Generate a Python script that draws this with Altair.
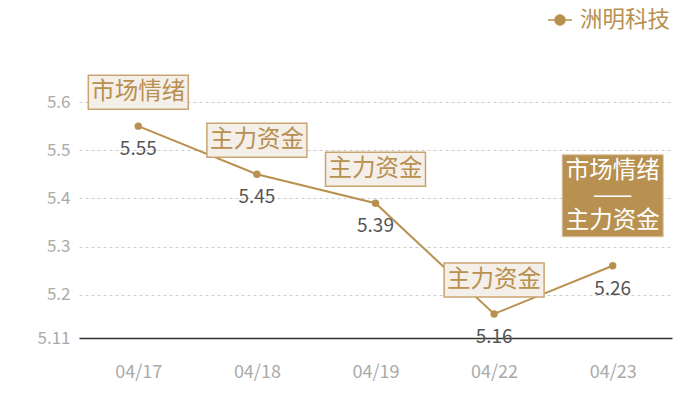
import altair as alt
import pandas as pd

dates = ["04/17", "04/18", "04/19", "04/22", "04/23"]
values = [5.55, 5.45, 5.39, 5.16, 5.26]
labels = ["市场情绪", "主力资金", "主力资金", "主力资金", "市场情绪\n——\n主力资金"]
kinds = ["light", "light", "light", "light", "dark"]
series_name = "洲明科技"
y_ticks = [5.11, 5.2, 5.3, 5.4, 5.5, 5.6]

df = pd.DataFrame({"date": dates, "value": values, "label": labels,
                   "kind": kinds, "series": series_name})

GOLD = "#b8904f"
FONT = "Noto Sans CJK SC"

x = alt.X("date:N", sort=dates, title=None,
          scale=alt.Scale(type="point", padding=0.5),
          axis=alt.Axis(labelAngle=0, labelColor="#aaaaaa", labelFontSize=18,
                        labelFont=FONT, domainColor="#333333", domainWidth=1.3,
                        ticks=False, labelPadding=25, grid=False))
y = alt.Y("value:Q", title=None,
          scale=alt.Scale(domain=[5.11, 5.65], nice=False, zero=False),
          axis=alt.Axis(values=y_ticks, format=".3~f", labelColor="#aaaaaa",
                        labelFontSize=17, labelFont=FONT, domain=False, ticks=False,
                        labelPadding=9, grid=True, gridDash=[3, 3],
                        gridColor="#cccccc", gridWidth=1))

base = alt.Chart(df).encode(x=x, y=y)

legend_path = ("M-1,0H-0.42 M0.42,0H1 "
               "M-0.42,0A0.42,0.42 0 1,1 0.42,0A0.42,0.42 0 1,1 -0.42,0Z")

line = base.mark_line(strokeWidth=2).encode(
    color=alt.Color("series:N", title=None,
                    scale=alt.Scale(range=[GOLD]),
                    legend=alt.Legend(orient="none", legendX=468, legendY=-71,
                                      symbolType=legend_path, symbolSize=576,
                                      symbolStrokeWidth=1.5,
                                      symbolFillColor=GOLD, symbolStrokeColor=GOLD,
                                      labelFontSize=22.5, labelColor=GOLD,
                                      labelFont=FONT, padding=0, labelOffset=7,
                                      labelLimit=200))
)
points = base.mark_circle(size=55, color=GOLD, opacity=1)

value_text = base.mark_text(dy=23, fontSize=19, color="#555555", font=FONT).encode(
    text=alt.Text("value:Q", format=".2f"))

light = base.transform_filter(alt.datum.kind == "light")
dark = base.transform_filter(alt.datum.kind == "dark")

light_box = light.mark_rect(width=100, height=34, yOffset=-34, fill="#f4efe8",
                            stroke="#c9a571", strokeWidth=1.5)
light_txt = light.mark_text(dy=-34, fontSize=23.5, color=GOLD, font=FONT,
                            baseline="middle").encode(text="label:N")

dark_box = dark.mark_rect(width=101, height=82, yOffset=-70, fill=GOLD,
                          stroke="#d9c4a0", strokeWidth=1)
dark_txt = dark.mark_text(dy=-95, fontSize=23.5, color="white", font=FONT,
                          baseline="middle", lineBreak="\n",
                          lineHeight=25).encode(text="label:N")

chart = alt.layer(line, points, value_text, light_box, light_txt, dark_box, dark_txt).properties(
    width=593, height=260,
    autosize=alt.AutoSizeParams(type="none"),
    padding={"left": 71, "top": 70, "right": 20, "bottom": 60},
).configure_view(stroke=None)

chart.save("out.html", embed_options={"renderer": "svg", "actions": False})
